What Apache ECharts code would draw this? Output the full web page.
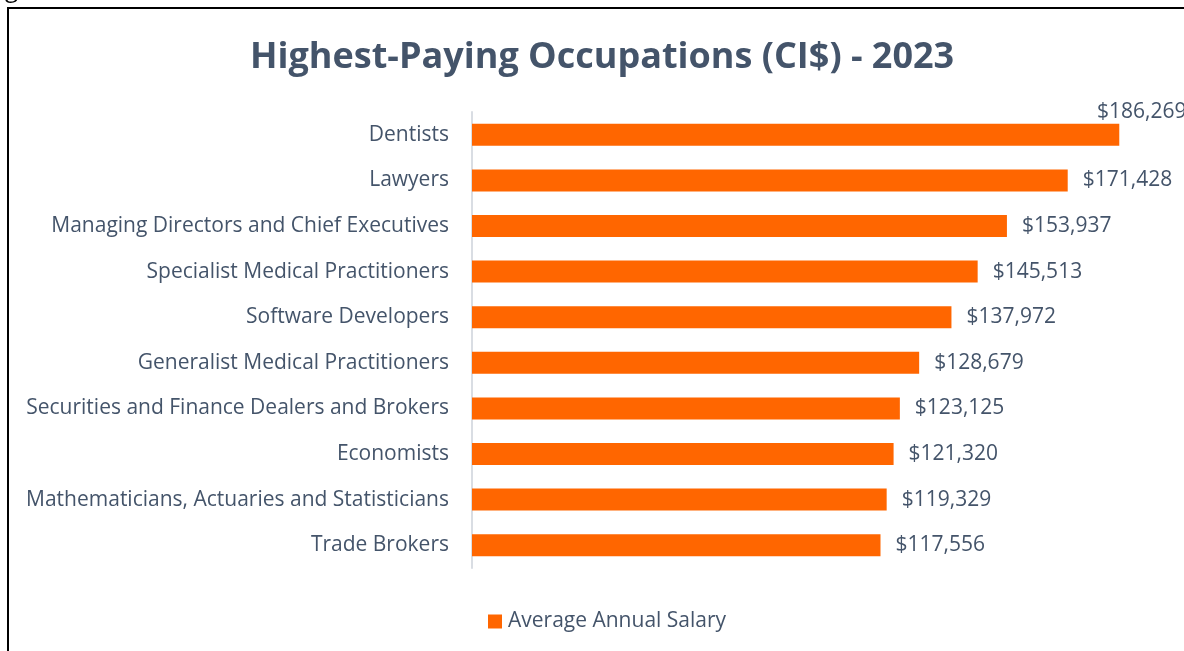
<!DOCTYPE html>
<html>
<head>
<meta charset="utf-8">
<script src="https://cdn.jsdelivr.net/npm/echarts@6/dist/echarts.min.js"></script>
<style>
  html, body { margin: 0; padding: 0; background: #fff; }
  #frame { position: absolute; left: 7px; top: 7px; width: 1200px; height: 700px;
           border-left: 2px solid #000; border-top: 2px solid #000; }
  #chart { position: absolute; left: 0; top: 0; width: 1184px; height: 651px; }
</style>
</head>
<body>
<div id="frame"></div>
<div id="chart"></div>
<script>
// categories top -> bottom
const occupations = [
  'Dentists',
  'Lawyers',
  'Managing Directors and Chief Executives',
  'Specialist Medical Practitioners',
  'Software Developers',
  'Generalist Medical Practitioners',
  'Securities and Finance Dealers and Brokers',
  'Economists',
  'Mathematicians, Actuaries and Statisticians',
  'Trade Brokers'
];
const salaries = [186269, 171428, 153937, 145513, 137972, 128679, 123125, 121320, 119329, 117556];
const seriesName = 'Average Annual Salary';

const textColor = '#44546a';
const fontFam = '"Open Sans", sans-serif';

const fmt = v => '$' + v.toLocaleString('en-US');

const myChart = echarts.init(document.getElementById('chart'));

const barData = salaries.map((v, i) => {
  const item = { value: v };
  // top bar label is pushed up-right like in the original
  if (i === 0) {
    item.label = { position: [625, -12], align: 'left', verticalAlign: 'middle' };
  }
  return item;
});

const option = {
  animation: false,
  backgroundColor: 'transparent',
  title: {
    text: 'Highest-Paying Occupations (CI$) - 2023',
    left: 245,
    top: 35,
    textStyle: { color: textColor, fontFamily: fontFam, fontWeight: 'bold', fontSize: 36 }
  },
  legend: {
    bottom: 14,
    left: 483,
    itemWidth: 14,
    itemHeight: 14,
    itemGap: 6,
    icon: 'rect',
    textStyle: { color: textColor, fontFamily: fontFam, fontSize: 21, padding: [0, 0, 0, 1] },
    data: [seriesName]
  },
  graphic: [{
    type: 'text', left: 5, top: -22,
    style: { text: 'g', fontSize: 24, fontFamily: fontFam, fill: '#000' }
  }],
  grid: { left: 472, right: 17, top: 112, bottom: 83 },
  xAxis: {
    type: 'value',
    min: 0,
    max: 200000,
    show: false
  },
  yAxis: {
    type: 'category',
    data: occupations,
    inverse: true,
    axisLine: { show: true, lineStyle: { color: '#d9dde3', width: 2 } },
    axisTick: { show: false },
    axisLabel: { color: textColor, fontFamily: fontFam, fontSize: 21, margin: 23, padding: [4, 0, 0, 0] }
  },
  series: [{
    name: seriesName,
    type: 'bar',
    data: barData,
    barWidth: 22,
    itemStyle: { color: '#ff6600' },
    label: {
      show: true,
      position: 'right',
      distance: 15,
      color: textColor,
      fontFamily: fontFam,
      fontSize: 21,
      padding: [4, 0, 0, 0],
      formatter: p => fmt(p.value)
    }
  }]
};

myChart.setOption(option);
</script>
</body>
</html>
